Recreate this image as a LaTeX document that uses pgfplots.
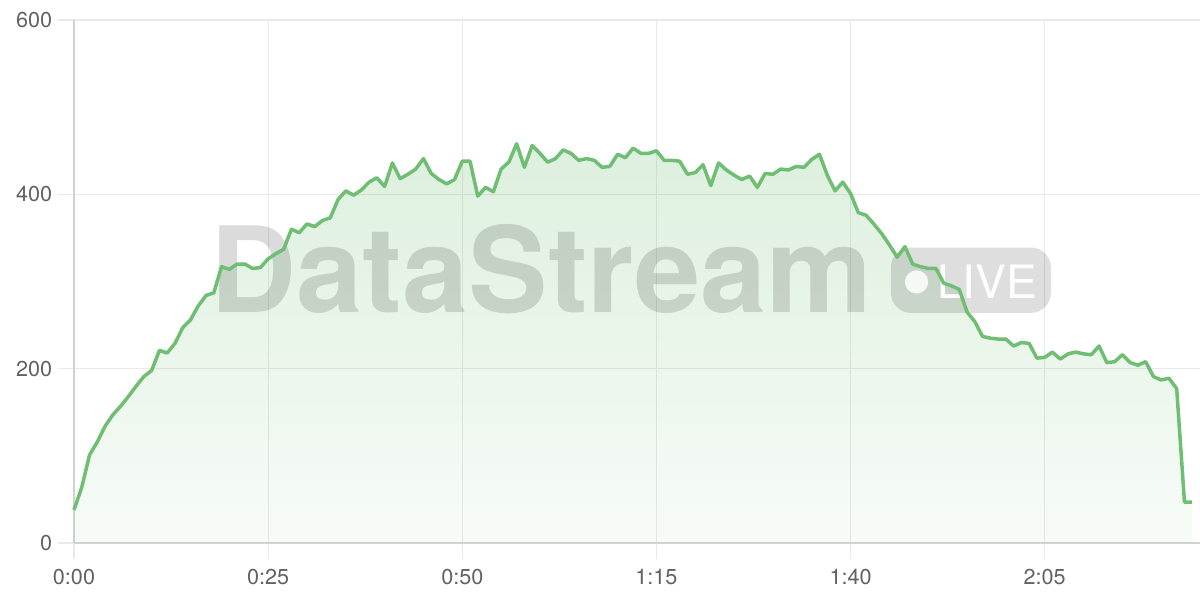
\documentclass[border=0pt]{standalone}
\usepackage{pgfplots}
\pgfplotsset{compat=1.18}
\usepackage{fontspec}
\setmainfont{TeX Gyre Heros}
\usetikzlibrary{fadings}

\definecolor{lineGreen}{RGB}{112,189,116}
\definecolor{gridGray}{RGB}{233,233,233}
\definecolor{axisGray}{RGB}{210,210,210}
\definecolor{tickText}{RGB}{98,98,98}

\tikzfading[name=areafade, top color=transparent!76, bottom color=transparent!95]

\pgfplotstableread{
t v
0 38
1 64
2 101
3 116
4 134
5 147
6 157
7 168
8 180
9 191
10 198
11 221
12 218
13 229
14 247
15 256
16 272
17 284
18 287
19 317
20 314
21 320
22 320
23 315
24 316
25 326
26 332
27 337
28 360
29 356
30 366
31 363
32 370
33 373
34 394
35 404
36 399
37 405
38 414
39 419
40 409
41 436
42 418
43 423
44 429
45 441
46 424
47 417
48 412
49 417
50 438
51 438
52 398
53 408
54 403
55 429
56 437
57 458
58 431
59 456
60 447
61 437
62 441
63 451
64 447
65 439
66 441
67 439
68 431
69 432
70 446
71 442
72 453
73 447
74 447
75 450
76 439
77 439
78 438
79 423
80 425
81 434
82 410
83 436
84 428
85 422
86 417
87 421
88 408
89 424
90 423
91 429
92 428
93 432
94 431
95 440
96 446
97 422
98 404
99 414
100 401
101 379
102 376
103 366
104 355
105 342
106 328
107 340
108 320
109 317
110 315
111 315
112 298
113 295
114 291
115 265
116 254
117 237
118 235
119 234
120 234
121 226
122 230
123 229
124 212
125 213
126 219
127 211
128 217
129 219
130 217
131 216
132 226
133 207
134 208
135 216
136 207
137 204
138 208
139 191
140 187
141 189
142 177
143 47
144 47
}\viewers

\begin{document}
\begin{tikzpicture}
  \begin{axis}[
      set layers,
      scale only axis,
      width=563pt, height=261.5pt,
      xmin=0, xmax=145,
      ymin=0, ymax=600,
      axis x line*=bottom,
      axis y line*=left,
      axis line style={draw=axisGray, line width=1pt},
      xtick={0,25,50,75,100,125},
      xticklabels={0:00,0:25,0:50,1:15,1:40,2:05},
      ytick={0,200,400,600},
      tick align=outside,
      major tick length=8pt,
      tick style={draw=gridGray, line width=0.6pt},
      grid=major,
      major grid style={draw=gridGray, line width=0.6pt},
      /pgf/number format/assume math mode=true,
      tick label style={font=\fontsize{10.8}{12}\selectfont, text=tickText},
      x tick label style={anchor=north, yshift=-1.5pt},
      y tick label style={anchor=east, xshift=0.6pt},
    ]
    % shaded area under the line
    \addplot[draw=none, fill=lineGreen, path fading=areafade] table {\viewers} \closedcycle;

    % the line itself, above the watermark
    \addplot[on layer=axis foreground, lineGreen, line width=1.75pt, line join=round]
      table {\viewers};

    % watermark
    \node[anchor=base west, inner sep=0pt, text=black, text opacity=0.14,
          font=\fontsize{59.5}{62}\selectfont\bfseries]
      at (axis cs:17.5,264) {DataStream};
    \fill[black, opacity=0.13, rounded corners=10pt]
      (axis cs:105.2,264) rectangle (axis cs:125.8,339);
    \fill[white, opacity=0.85] (axis cs:108.5,299.5) circle[radius=5.8pt];
    \node[anchor=base west, inner sep=0pt, text=white,
          font=\fontsize{23}{24}\selectfont]
      at (axis cs:111.1,281) {LIVE};
  \end{axis}
  \pgfresetboundingbox
  \useasboundingbox (-37pt,-28.5pt) rectangle (563pt,271.5pt);
\end{tikzpicture}
\end{document}
